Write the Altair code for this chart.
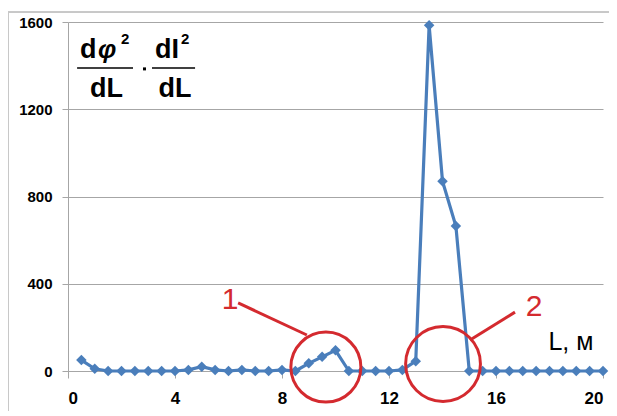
import altair as alt
import pandas as pd

# data
L_values = [0.5, 1.0, 1.5, 2.0, 2.5, 3.0, 3.5, 4.0, 4.5, 5.0,
            5.5, 6.0, 6.5, 7.0, 7.5, 8.0, 8.5, 9.0, 9.5, 10.0,
            10.5, 11.0, 11.5, 12.0, 12.5, 13.0, 13.5, 14.0, 14.5, 15.0,
            15.5, 16.0, 16.5, 17.0, 17.5, 18.0, 18.5, 19.0, 19.5, 20.0]
D_values = [50, 10, 0, 0, 0, 0, 0, 0, 5, 20,
            5, 0, 5, 0, 0, 5, 0, 35, 65, 95,
            0, 0, 0, 0, 5, 45, 1585, 870, 665, 0,
            0, 0, 0, 0, 0, 0, 0, 0, 0, 0]
x_ticks = [0, 4, 8, 12, 16, 20]
y_ticks = [0, 400, 800, 1200, 1600]

# annotations (data coordinates)
circle_x = [9.64, 14.02]
circle_y = [18, 32]
circle_size = [4900, 5600]
label_text = ["1", "2"]
label_x = [6.06, 17.42]
label_y = [326, 293]
pointer_x = [6.36, 16.71]
pointer_x2 = [8.93, 15.03]
pointer_y = [312, 270]
pointer_y2 = [165, 142]

RED = "#D42A2F"
BLUE = "#4A7EBB"
GRAY = "#A6A6A6"
FONT = "Liberation Sans"

df = pd.DataFrame({"L": L_values, "D": D_values})

xs = alt.Scale(domain=[0, 20], nice=False)
ys = alt.Scale(domain=[0, 1600], nice=False)

line = alt.Chart(df).mark_line(
    color=BLUE, strokeWidth=3.2,
    point=alt.OverlayMarkDef(shape="diamond", size=110, filled=True, color=BLUE),
).encode(
    x=alt.X("L:Q", scale=xs, axis=alt.Axis(
        values=x_ticks, title=None, grid=False, domainColor=GRAY, tickColor=GRAY,
        tickSize=7, labelPadding=12, labelFontSize=17, labelFontWeight="bold",
        labelFont=FONT, labelColor="black", format="d")),
    y=alt.Y("D:Q", scale=ys, axis=alt.Axis(
        values=y_ticks, title=None, grid=True, gridColor=GRAY, domainColor=GRAY,
        tickColor=GRAY, tickSize=6, labelPadding=10, labelFontSize=15,
        labelFontWeight="bold", labelFont=FONT, labelColor="black", format="d")),
)

ann = pd.DataFrame({
    "cx": circle_x, "cy": circle_y, "cs": circle_size,
    "t": label_text, "tx": label_x, "ty": label_y,
    "px": pointer_x, "px2": pointer_x2, "py": pointer_y, "py2": pointer_y2,
})

circles = alt.Chart(ann).mark_point(
    shape="circle", filled=False, color=RED, strokeWidth=3, opacity=1
).encode(
    x=alt.X("cx:Q", scale=xs), y=alt.Y("cy:Q", scale=ys),
    size=alt.Size("cs:Q", scale=None, legend=None),
)

pointers = alt.Chart(ann).mark_rule(color=RED, strokeWidth=3).encode(
    x=alt.X("px:Q", scale=xs), x2="px2:Q",
    y=alt.Y("py:Q", scale=ys), y2="py2:Q",
)

labels = alt.Chart(ann).mark_text(
    color=RED, fontSize=30, font=FONT, baseline="middle", align="center"
).encode(
    x=alt.X("tx:Q", scale=xs), y=alt.Y("ty:Q", scale=ys), text="t:N",
)

# axis label L, м
axis_lbl_df = pd.DataFrame({"x": [18.8], "y": [96], "t": ["L, м"]})
axis_lbl = alt.Chart(axis_lbl_df).mark_text(
    fontSize=25, font=FONT, color="black", baseline="alphabetic", align="center"
).encode(x=alt.X("x:Q", scale=xs), y=alt.Y("y:Q", scale=ys), text="t:N")

# formula pieces
num_x = [0.45, 3.25]
num_y = [1435, 1435]
num_t = ["d", "dI"]
phi_x = [1.12]
phi_y = [1435]
sup_x = [1.98, 4.22]
sup_y = [1500, 1500]
den_x = [1.44, 4.0]
den_y = [1256, 1256]
bar_x = [0.34, 3.14]
bar_x2 = [2.43, 4.75]
bar_y = [1389, 1389]
dot_x = [2.86]
dot_y = [1385]

num_df = pd.DataFrame({"x": num_x, "y": num_y, "t": num_t})
phi_df = pd.DataFrame({"x": phi_x, "y": phi_y, "t": ["φ"]})
sup_df = pd.DataFrame({"x": sup_x, "y": sup_y, "t": ["2", "2"]})
den_df = pd.DataFrame({"x": den_x, "y": den_y, "t": ["dL", "dL"]})
bar_df = pd.DataFrame({"x": bar_x, "x2": bar_x2, "y": bar_y})
dot_df = pd.DataFrame({"x": dot_x, "y": dot_y})

def txt(d, size, align, style="normal"):
    return alt.Chart(d).mark_text(
        fontSize=size, fontWeight="bold", font=FONT, fontStyle=style, color="black",
        baseline="alphabetic", align=align
    ).encode(x=alt.X("x:Q", scale=xs), y=alt.Y("y:Q", scale=ys), text="t:N")

num = txt(num_df, 27, "left")
phi = txt(phi_df, 26, "left", "italic")
sup = txt(sup_df, 15, "left")
den = txt(den_df, 27, "center")
bars = alt.Chart(bar_df).mark_rule(color="black", strokeWidth=1.5).encode(
    x=alt.X("x:Q", scale=xs), x2="x2:Q", y=alt.Y("y:Q", scale=ys))
dot = alt.Chart(dot_df).mark_point(shape="square", size=9, filled=True, color="black", opacity=1).encode(
    x=alt.X("x:Q", scale=xs), y=alt.Y("y:Q", scale=ys))

# outer frame of chart area
frame_top = alt.Chart(df).mark_rule(color="#C8C8C8", strokeWidth=1).encode(
    x=alt.value(-60), x2=alt.value(560), y=alt.value(-10))
frame_left = alt.Chart(df).mark_rule(color="#C8C8C8", strokeWidth=1).encode(
    x=alt.value(-60), y=alt.value(-10), y2=alt.value(400))

chart = alt.layer(
    frame_top, frame_left, line, circles, pointers, labels, axis_lbl,
    num, phi, sup, den, bars, dot
).properties(
    width=535, height=349,
    padding={"left": 60, "top": 14, "right": 6, "bottom": 40},
    autosize=alt.AutoSizeParams(type="none"),
    background="white",
).configure_view(stroke=None)

chart.save("out.html", embed_options={"renderer": "svg", "actions": False})
